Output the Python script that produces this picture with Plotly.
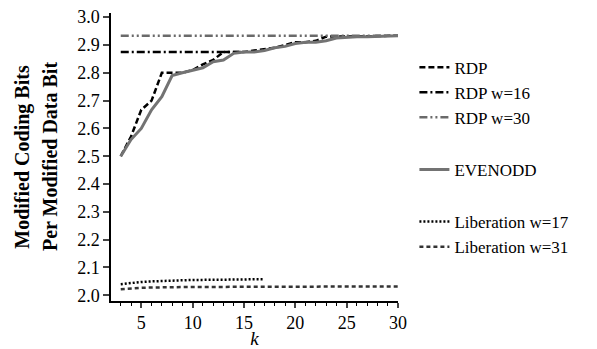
import plotly.graph_objects as go

k_rdp = list(range(3, 31))
rdp = [2.500, 2.571, 2.667, 2.700, 2.800, 2.800, 2.800, 2.810, 2.830, 2.846,
       2.875, 2.875, 2.875, 2.880, 2.885, 2.890, 2.900, 2.910, 2.910, 2.915,
       2.930, 2.930, 2.930, 2.931, 2.932, 2.932, 2.933, 2.933]

k_rdp16 = list(range(3, 16))
rdp16 = [2.875] * len(k_rdp16)

k_rdp30 = list(range(3, 31))
rdp30 = [2.933] * len(k_rdp30)

k_eo = list(range(3, 31))
evenodd = [2.500, 2.560, 2.600, 2.667, 2.714, 2.790, 2.800, 2.810, 2.818, 2.840,
           2.846, 2.870, 2.875, 2.875, 2.880, 2.890, 2.895, 2.905, 2.910, 2.910,
           2.915, 2.925, 2.928, 2.930, 2.930, 2.931, 2.932, 2.933]

k_lib17 = list(range(3, 18))
lib17 = [2.040, 2.045, 2.048, 2.050, 2.052, 2.053, 2.054, 2.055, 2.055, 2.056,
         2.056, 2.057, 2.057, 2.058, 2.058]

k_lib31 = list(range(3, 31))
lib31 = [2.022, 2.025, 2.027, 2.028, 2.029, 2.029, 2.030, 2.030, 2.030, 2.030,
         2.031, 2.031, 2.031, 2.031, 2.031, 2.031, 2.031, 2.032, 2.032, 2.032,
         2.032, 2.032, 2.032, 2.032, 2.032, 2.032, 2.032, 2.032]

FONT = "Liberation Serif"

fig = go.Figure()
fig.add_trace(go.Scatter(x=k_rdp, y=rdp, name="RDP", mode="lines", legendgroup="a",
                         line=dict(color="black", width=2.5, dash="6px,3px")))
fig.add_trace(go.Scatter(x=k_rdp16, y=rdp16, name="RDP w=16", mode="lines", legendgroup="a",
                         line=dict(color="black", width=2.5, dash="8px,3px,2px,3px")))
fig.add_trace(go.Scatter(x=k_rdp30, y=rdp30, name="RDP w=30", mode="lines", legendgroup="a",
                         line=dict(color="#6a6a6a", width=2.5, dash="8px,3px,2px,3px,2px,3px")))
fig.add_trace(go.Scatter(x=k_eo, y=evenodd, name="EVENODD", mode="lines", legendgroup="b",
                         line=dict(color="#737373", width=3)))
fig.add_trace(go.Scatter(x=k_lib17, y=lib17, name="Liberation w=17", mode="lines", legendgroup="c",
                         line=dict(color="black", width=2.5, dash="2px,2px")))
fig.add_trace(go.Scatter(x=k_lib31, y=lib31, name="Liberation w=31", mode="lines", legendgroup="c",
                         line=dict(color="#333333", width=2.5, dash="4px,3px")))

# the page body adds an 8px margin on the left and top, so the figure is sized to fit
fig.update_layout(
    width=589, height=341,
    margin=dict(l=103, r=199, t=5, b=48, autoexpand=False),
    plot_bgcolor="white", paper_bgcolor="white",
    font=dict(family=FONT, size=18, color="black"),
    showlegend=True,
    legend=dict(xref="container", x=0.69, xanchor="left", y=0.873, yanchor="top",
                font=dict(family=FONT, size=17, color="black"),
                traceorder="grouped", tracegroupgap=27,
                bgcolor="rgba(0,0,0,0)", borderwidth=0, itemwidth=30),
    xaxis=dict(range=[2.05, 30.0], tick0=0, dtick=5, ticks="outside", ticklen=5,
               tickwidth=1.5, showline=True, linecolor="black", linewidth=1.5,
               showgrid=False, zeroline=False, automargin=False,
               ticklabeloverflow="allow",
               minor=dict(dtick=1, ticks="outside", ticklen=3, tickwidth=1, tickcolor="black"),
               tickfont=dict(family=FONT, size=18),
               title=dict(text="<i>k</i>", font=dict(family=FONT, size=19), standoff=0)),
    yaxis=dict(range=[1.9795, 3.015], tick0=2.0, dtick=0.1, tickformat=".1f",
               ticks="outside", ticklen=6, tickwidth=1.5, showline=True,
               linecolor="black", linewidth=1.5, showgrid=False, zeroline=False,
               automargin=False, ticklabeloverflow="allow",
               tickfont=dict(family=FONT, size=18)),
)

fig.add_annotation(text="<b>Modified Coding Bits</b>", xref="paper", yref="paper",
                   x=(21.7 - 111) / 287, y=0.5, textangle=-90, showarrow=False,
                   xanchor="center", yanchor="middle",
                   font=dict(family=FONT, size=20, color="black"))
fig.add_annotation(text="<b>Per Modified Data Bit</b>", xref="paper", yref="paper",
                   x=(50 - 111) / 287, y=0.5, textangle=-90, showarrow=False,
                   xanchor="center", yanchor="middle",
                   font=dict(family=FONT, size=20, color="black"))

fig.write_html("out.html")
